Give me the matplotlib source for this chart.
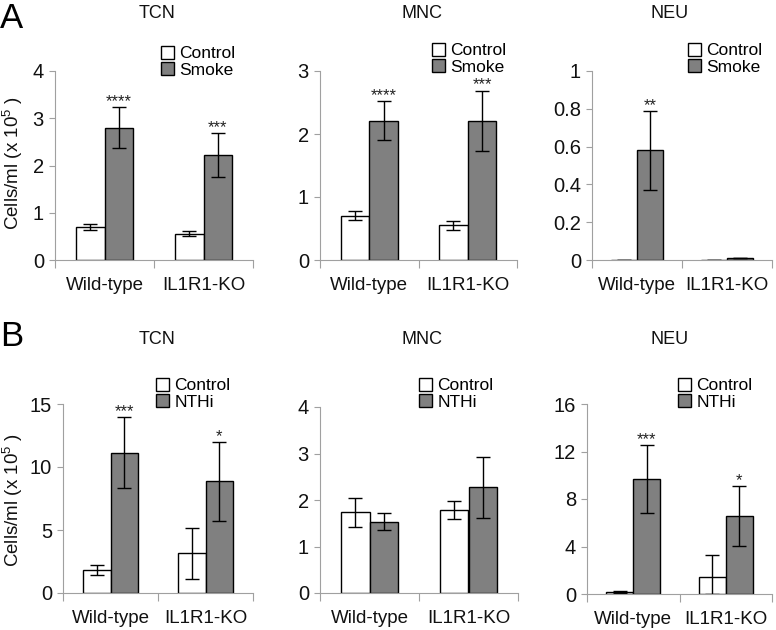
import matplotlib
matplotlib.use("Agg")
import matplotlib.pyplot as plt
import numpy as np

plt.rcParams['font.family'] = ['Liberation Sans', 'DejaVu Sans']
plt.rcParams['mathtext.fontset'] = 'custom'
plt.rcParams['mathtext.rm'] = 'Liberation Sans'
plt.rcParams['mathtext.default'] = 'regular'

genotypes = ["Wild-type", "IL1R1-KO"]

# Panel A: cigarette smoke exposure
a_tcn_ctrl = [0.70, 0.56]
a_tcn_ctrl_err = [0.06, 0.06]
a_tcn_trt = [2.80, 2.22]
a_tcn_trt_err = [0.44, 0.47]
a_tcn_stars = ["****", "***"]

a_mnc_ctrl = [0.70, 0.55]
a_mnc_ctrl_err = [0.07, 0.07]
a_mnc_trt = [2.21, 2.21]
a_mnc_trt_err = [0.31, 0.48]
a_mnc_stars = ["****", "***"]

a_neu_ctrl = [0.002, 0.002]
a_neu_ctrl_err = [0.0, 0.0]
a_neu_trt = [0.58, 0.008]
a_neu_trt_err = [0.21, 0.0]
a_neu_stars = ["**", ""]

# Panel B: NTHi infection
b_tcn_ctrl = [1.85, 3.15]
b_tcn_ctrl_err = [0.40, 2.00]
b_tcn_trt = [11.15, 8.85]
b_tcn_trt_err = [2.85, 3.10]
b_tcn_stars = ["***", "*"]

b_mnc_ctrl = [1.74, 1.79]
b_mnc_ctrl_err = [0.31, 0.19]
b_mnc_trt = [1.53, 2.27]
b_mnc_trt_err = [0.18, 0.65]
b_mnc_stars = ["", ""]

b_neu_ctrl = [0.14, 1.43]
b_neu_ctrl_err = [0.08, 1.83]
b_neu_trt = [9.70, 6.57]
b_neu_trt_err = [2.87, 2.55]
b_neu_stars = ["***", "*"]

W, H = 776, 630
fig = plt.figure(figsize=(W / 100, H / 100), dpi=100)


def px_axes(x0, x1, y0, y1):
    # y0 = top pixel, y1 = bottom pixel
    return fig.add_axes([x0 / W, 1 - y1 / H, (x1 - x0) / W, (y1 - y0) / H])


def draw_panel(ax, ctrl, ctrl_err, trt, trt_err, stars, ymax, yticks, ytlabels,
               trt_name, leg_xy):
    x = np.arange(len(genotypes))
    w = 0.29
    ekw = dict(ecolor='black', capsize=5, elinewidth=1.0, capthick=1.0)
    # lower error clipped at zero, like the original
    c_lo = np.minimum(ctrl_err, ctrl)
    t_lo = np.minimum(trt_err, trt)
    ax.bar(x - w / 2, ctrl, w, color='white', edgecolor='black', linewidth=1.0,
           yerr=[c_lo, ctrl_err], error_kw=ekw, label='Control', zorder=2)
    ax.bar(x + w / 2, trt, w, color='#808080', edgecolor='black', linewidth=1.0,
           yerr=[t_lo, trt_err], error_kw=ekw, label=trt_name, zorder=2)
    for i, s in enumerate(stars):
        if s:
            ax.annotate(s, (x[i] + w / 2, trt[i] + trt_err[i]),
                        xytext=(0, -1.5), textcoords='offset points',
                        ha='center', va='bottom', fontsize=12, color='#222222')
    ax.set_xlim(-0.5, 1.5)
    ax.set_ylim(0, ymax)
    ax.set_yticks(yticks)
    ax.set_yticklabels(ytlabels)
    ax.set_xticks([-0.5, 0.5, 1.5])
    ax.set_xticklabels([])
    ax.set_xticks(x, minor=True)
    ax.set_xticklabels(genotypes, minor=True)
    ax.tick_params(axis='x', which='minor', length=0, pad=12, labelsize=13.5,
                   labelcolor='#111111')
    ax.tick_params(axis='x', which='major', length=6, color='#a0a0a0', width=0.8)
    ax.tick_params(axis='y', length=4, color='#a0a0a0', width=0.8,
                   labelsize=14.5, labelcolor='#111111', pad=4)
    for sp in ['top', 'right']:
        ax.spines[sp].set_visible(False)
    for sp in ['left', 'bottom']:
        ax.spines[sp].set_color('#a0a0a0')
        ax.spines[sp].set_linewidth(0.8)
    ax.spines['left'].set_zorder(3)
    ax.legend(loc='upper left', bbox_to_anchor=(leg_xy[0] / W, 1 - leg_xy[1] / H),
              bbox_transform=fig.transFigure, frameon=False, fontsize=12.5,
              borderaxespad=0, borderpad=0, handlelength=0.75, handleheight=0.75,
              handletextpad=0.3, labelspacing=0.05)


ax = px_axes(55, 253, 71, 260)
draw_panel(ax, a_tcn_ctrl, a_tcn_ctrl_err, a_tcn_trt, a_tcn_trt_err, a_tcn_stars,
           4, [0, 1, 2, 3, 4], ["0", "1", "2", "3", "4"], "Smoke", (161, 46))
ax = px_axes(320, 517, 71, 260)
draw_panel(ax, a_mnc_ctrl, a_mnc_ctrl_err, a_mnc_trt, a_mnc_trt_err, a_mnc_stars,
           3, [0, 1, 2, 3], ["0", "1", "2", "3"], "Smoke", (432, 43))
ax = px_axes(592, 772, 71, 260)
draw_panel(ax, a_neu_ctrl, a_neu_ctrl_err, a_neu_trt, a_neu_trt_err, a_neu_stars,
           1, [0, 0.2, 0.4, 0.6, 0.8, 1.0], ["0", "0.2", "0.4", "0.6", "0.8", "1"],
           "Smoke", (688, 43))

ax = px_axes(63, 253, 404, 593)
draw_panel(ax, b_tcn_ctrl, b_tcn_ctrl_err, b_tcn_trt, b_tcn_trt_err, b_tcn_stars,
           15, [0, 5, 10, 15], ["0", "5", "10", "15"], "NTHi", (156, 378))
ax = px_axes(320, 518, 407, 593)
draw_panel(ax, b_mnc_ctrl, b_mnc_ctrl_err, b_mnc_trt, b_mnc_trt_err, b_mnc_stars,
           4, [0, 1, 2, 3, 4], ["0", "1", "2", "3", "4"], "NTHi", (419, 378))
ax = px_axes(587, 772, 404, 594)
draw_panel(ax, b_neu_ctrl, b_neu_ctrl_err, b_neu_trt, b_neu_trt_err, b_neu_stars,
           16, [0, 4, 8, 12, 16], ["0", "4", "8", "12", "16"], "NTHi", (678, 378))

# titles
for tx, ty, t in [(157, 13, "TCN"), (422, 13, "MNC"), (670, 13, "NEU"),
                  (157, 339, "TCN"), (422, 339, "MNC"), (670, 339, "NEU")]:
    fig.text(tx / W, 1 - ty / H, t, ha='center', va='center', fontsize=13,
             color='#111111')

# panel letters
fig.text(0 / W, 1 - 18 / H, "A", ha='left', va='center', fontsize=25)
fig.text(0 / W, 1 - 336 / H, "B", ha='left', va='center', fontsize=25)

# y labels
ylab = "Cells/ml (x 10$^{5}$ )"
fig.text(13 / W, 1 - 163 / H, ylab, rotation=90, ha='center', va='center',
         fontsize=13.5, color='#111111')
fig.text(13 / W, 1 - 500 / H, ylab, rotation=90, ha='center', va='center',
         fontsize=13.5, color='#111111')

fig.savefig("out.png", dpi=100)
